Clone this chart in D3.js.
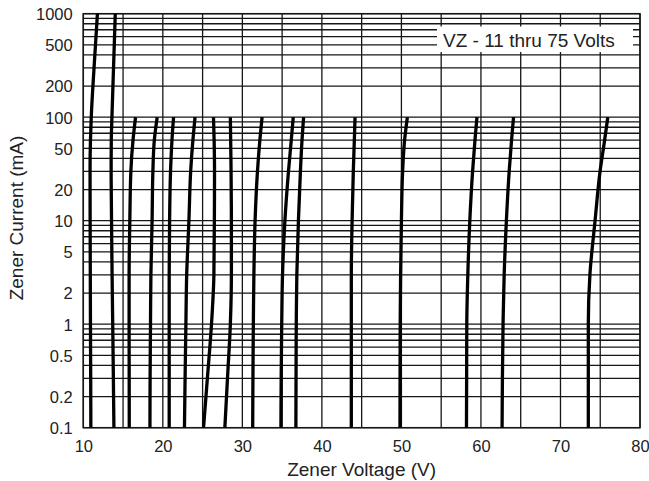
<!DOCTYPE html>
<html>
<head>
<meta charset="utf-8">
<script src="https://cdn.jsdelivr.net/npm/d3@7"></script>
<style>
  html, body { margin: 0; padding: 0; background: #fff; }
  svg { display: block; }
  text { font-family: "Liberation Sans", Arial, sans-serif; fill: #222; }
</style>
</head>
<body>
<svg id="chart" width="649" height="481"></svg>
<script>
// ---- data ----
const xTickValues = [10, 20, 30, 40, 50, 60, 70, 80];
const yTickValues = [1000, 500, 200, 100, 50, 20, 10, 5, 2, 1, 0.5, 0.2, 0.1];
const yTickLabels = ["1000", "500", "200", "100", "50", "20", "10", "5", "2", "1", "0.5", "0.2", "0.1"];

// currents (mA) at which each curve's voltage was read
const currentLevels = [0.1, 0.3, 1, 3, 10, 30, 60, 100];
const currentLevelsHigh = [0.1, 0.3, 1, 3, 10, 30, 60, 100, 300, 1000];

// zener voltage (V) of each curve at those currents
const v11 = [10.95, 10.93, 10.9, 10.88, 10.86, 10.85, 10.9, 11.0, 11.35, 11.78];
const v13 = [13.85, 13.78, 13.7, 13.62, 13.55, 13.5, 13.52, 13.6, 13.8, 14.02];
const v16 = [15.78, 15.77, 15.76, 15.76, 15.85, 15.98, 16.25, 16.57];
const v18 = [18.38, 18.4, 18.45, 18.5, 18.65, 18.75, 18.93, 19.29];
const v21 = [20.8, 20.8, 20.8, 20.8, 20.85, 20.97, 21.15, 21.35];
const v23 = [22.72, 22.8, 22.9, 23.0, 23.28, 23.5, 23.78, 24.05];
const v26 = [25.12, 25.6, 26.12, 26.42, 26.48, 26.5, 26.45, 26.37];
const v28 = [27.8, 28.13, 28.49, 28.62, 28.62, 28.58, 28.53, 28.49];
const v31 = [31.3, 31.33, 31.38, 31.45, 31.6, 31.9, 32.2, 32.48];
const v35 = [34.85, 34.88, 34.95, 35.05, 35.35, 35.8, 36.15, 36.4];
const v37 = [36.73, 36.75, 36.78, 36.85, 37.05, 37.3, 37.5, 37.7];
const v44 = [43.7, 43.7, 43.7, 43.7, 43.8, 43.95, 44.08, 44.17];
const v50 = [49.82, 49.83, 49.85, 49.9, 50.0, 50.15, 50.4, 50.75];
const v58 = [58.18, 58.2, 58.22, 58.35, 58.6, 58.95, 59.25, 59.5];
const v63 = [62.66, 62.7, 62.78, 62.92, 63.2, 63.55, 63.85, 64.1];
const v74 = [73.5, 73.5, 73.5, 73.7, 74.35, 74.98, 75.55, 75.95];

const legendText = "VZ - 11 thru 75 Volts";
const xTitle = "Zener Voltage (V)";
const yTitle = "Zener Current (mA)";

// ---- build series ----
const highSeries = [v11, v13];
const lowSeries = [v16, v18, v21, v23, v26, v28, v31, v35, v37, v44, v50, v58, v63, v74];
const series = [
  ...highSeries.map(vs => vs.map((v, k) => ({ v, i: currentLevelsHigh[k] }))),
  ...lowSeries.map(vs => vs.map((v, k) => ({ v, i: currentLevels[k] })))
];

// ---- layout ----
const L = 83.3, R = 640, T = 13.7, B = 427.7;
const svg = d3.select("#chart");

const x = d3.scaleLinear().domain([10, 80]).range([L, R]);
const y = d3.scaleLog().domain([0.1, 1000]).range([B, T]);

const gridColor = "#161616";
const grid = svg.append("g");

// horizontal log grid (1..9 per decade)
grid.selectAll("line.h").data(y.ticks()).join("line")
  .attr("class", "h")
  .attr("x1", L).attr("x2", R)
  .attr("y1", d => y(d)).attr("y2", d => y(d))
  .attr("stroke", gridColor).attr("stroke-width", 1.3);

// vertical grid every 5 V
grid.selectAll("line.v").data(d3.range(10, 80.1, 5)).join("line")
  .attr("class", "v")
  .attr("y1", T).attr("y2", B)
  .attr("x1", d => x(d)).attr("x2", d => x(d))
  .attr("stroke", gridColor).attr("stroke-width", 1.3);

// frame
svg.append("rect")
  .attr("x", L).attr("y", T).attr("width", R - L).attr("height", B - T)
  .attr("fill", "none").attr("stroke", gridColor).attr("stroke-width", 1.5);

// curves
const line = d3.line()
  .x(d => x(d.v))
  .y(d => y(d.i))
  .curve(d3.curveMonotoneY);

svg.append("g").selectAll("path").data(series).join("path")
  .attr("d", line)
  .attr("fill", "none")
  .attr("stroke", "#000")
  .attr("stroke-width", 3.3)
  .attr("stroke-linecap", "butt");

// legend box
svg.append("rect")
  .attr("x", 437).attr("y", 26.5).attr("width", 196).attr("height", 25.5)
  .attr("fill", "#fff");
svg.append("text")
  .attr("x", 443).attr("y", 46.5)
  .style("font-size", "19px")
  .text(legendText);

// axes
const yAxis = d3.axisLeft(y)
  .tickValues(yTickValues)
  .tickFormat((d, k) => yTickLabels[k])
  .tickSize(0).tickPadding(10.6);
const gy = svg.append("g").attr("transform", `translate(${L},0)`).call(yAxis);
gy.select(".domain").remove();
gy.selectAll("text")
  .attr("dy", "0.36em")
  .style("font-size", "16.5px")
  .style("font-family", '"Liberation Sans", Arial, sans-serif')
  .attr("fill", "#222");

const xAxis = d3.axisBottom(x)
  .tickValues(xTickValues)
  .tickFormat(d3.format("d"))
  .tickSize(0);
const gx = svg.append("g").attr("transform", `translate(0,${B})`).call(xAxis);
gx.select(".domain").remove();
gx.selectAll("text")
  .attr("y", 24).attr("dy", 0)
  .style("font-size", "16.5px")
  .style("font-family", '"Liberation Sans", Arial, sans-serif')
  .attr("fill", "#222");

// axis titles
svg.append("text")
  .attr("x", (L + R) / 2).attr("y", 476)
  .attr("text-anchor", "middle")
  .style("font-size", "19px")
  .text(xTitle);

svg.append("text")
  .attr("transform", `translate(23,218) rotate(-90)`)
  .attr("text-anchor", "middle")
  .style("font-size", "19px")
  .text(yTitle);
</script>
</body>
</html>
